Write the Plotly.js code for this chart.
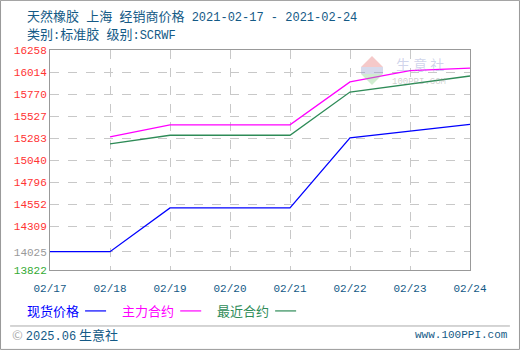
<!DOCTYPE html>
<html><head><meta charset="utf-8">
<script src="https://cdn.plot.ly/plotly-3.0.1.min.js"></script>
<style>html,body{margin:0;padding:0;background:#fff}#c{width:520px;height:350px}</style>
</head><body><div id="c"></div>
<script>
const dates = ["02/17","02/18","02/19","02/20","02/21","02/22","02/23","02/24"];
const spot = [14025, 14025, 14510, 14510, 14510, 15285, 15358, 15435];
const mainContract = [null, 15296, 15430, 15430, 15430, 15905, 16030, 16058];
const nearContract = [null, 15218, 15314, 15314, 15314, 15793, 15880, 15970];
const leftTicks = [16258,16014,15770,15527,15283,15040,14796,14552,14309,14025,13822];
const rightTicks = [15.92,14.18,12.45,10.71,8.97,7.24,5.50,3.76,2.03,0.00,-1.45];
const seriesNames = ["现货价格","主力合约","最近合约"];
const seriesColors = ["#0000ff","#ff00ff","#2e8b57"];

const FONT = "'Liberation Mono','Noto Sans CJK SC',monospace";
const CJK = "'Noto Sans CJK SC','Liberation Mono',sans-serif";
function colorFor(i, n){ return i===n-1 ? "#33aa33" : (i===n-2 ? "#999999" : "#ff3333"); }
const leftText = leftTicks.map((v,i)=>`<span style="color:${colorFor(i,leftTicks.length)}">${v}</span>`);
const rightText = rightTicks.map((v,i)=>`<span style="color:${colorFor(i,rightTicks.length)}">${v.toFixed(2)}%</span>`);

const traces = [spot, mainContract, nearContract].map((ys,i)=>({
  x: dates, y: ys, type:'scatter', mode:'lines', name: seriesNames[i],
  line:{color: seriesColors[i], width:1.3}, connectgaps:false, hoverinfo:'skip'
}));

const MONO = 'style="font-family:Liberation Mono;font-size:12px"';
const SP = '<span style="font-family:Liberation Mono;font-size:12px">\u00a0</span>';
const annotations = [
  {xref:'paper',yref:'paper',x:-0.0595,y:1.159,xanchor:'left',yanchor:'middle',showarrow:false,
   text:`天然橡胶${SP}上海${SP}经销商价格<span ${MONO}>\u00a02021-02-17 - 2021-02-24</span>`,font:{family:CJK,size:13,color:'#145a86'}},
  {xref:'paper',yref:'paper',x:-0.0595,y:1.075,xanchor:'left',yanchor:'middle',showarrow:false,
   text:`类别<span ${MONO}>:</span>标准胶${SP}级别<span ${MONO}>:SCRWF</span>`,font:{family:CJK,size:13,color:'#145a86'}},
  {xref:'paper',yref:'paper',x:0.882,y:0.935,xanchor:'center',yanchor:'middle',showarrow:false,
   text:'生 意 社',font:{family:CJK,size:14,color:'rgba(150,160,210,0.45)'}},
  {xref:'paper',yref:'paper',x:0.879,y:0.855,xanchor:'center',yanchor:'middle',showarrow:false,
   text:'100PPI.COM',font:{family:FONT,size:9,color:'rgba(150,150,150,0.45)'}},
  {xref:'paper',yref:'paper',x:-0.095,y:-0.295,xanchor:'left',yanchor:'middle',showarrow:false,
   text:`<span style="color:#aaaaaa">©</span> <span ${MONO}>2025.06</span> 生意社`,font:{family:CJK,size:13,color:'#145a86'}},
  {xref:'paper',yref:'paper',x:1.095,y:-0.295,xanchor:'right',yanchor:'middle',showarrow:false,
   text:'www.100PPI.com',font:{family:FONT,size:11,color:'#145a86'}}
];
const legX = [-0.0595, 0.167, 0.393];
const shapes = [
  {type:'line',xref:'paper',yref:'paper',x0:-0.095,x1:1.095,y0:-0.2545,y1:-0.2545,line:{color:'#aaaaaa',width:1}},
  {type:'rect',xref:'paper',yref:'paper',x0:-0.1178,x1:1.1178,y0:-0.361,y1:1.2255,line:{color:'#999999',width:1}},
  {type:'path',xref:'paper',yref:'paper',path:'M0.7405,0.9227 L0.7667,0.9727 L0.7929,0.9227 Z',
   fillcolor:'rgba(230,120,120,0.4)',line:{width:0}},
  {type:'rect',xref:'paper',yref:'paper',x0:0.7405,x1:0.7929,y0:0.8909,y1:0.9227,
   fillcolor:'rgba(140,150,200,0.35)',line:{width:0}},
  {type:'path',xref:'paper',yref:'paper',path:'M0.7405,0.8909 L0.7667,0.8409 L0.7929,0.8909 Z',
   fillcolor:'rgba(120,200,120,0.35)',line:{width:0}}
];
seriesNames.forEach((n,i)=>{
  annotations.push({xref:'paper',yref:'paper',x:legX[i],y:-0.186,xanchor:'left',yanchor:'middle',showarrow:false,
    text:n,font:{family:CJK,size:13,color:seriesColors[i]}});
  shapes.push({type:'line',xref:'paper',yref:'paper',x0:legX[i]+0.143,x1:legX[i]+0.193,y0:-0.186,y1:-0.186,
    line:{color:seriesColors[i],width:1.2}});
});

const layout = {
  width:520,height:350,margin:{l:50,r:50,t:50,b:80},
  paper_bgcolor:'#fff',plot_bgcolor:'#fff',showlegend:false,
  font:{family:FONT,size:11},
  xaxis:{type:'category',range:[0,7],tickvals:dates,ticktext:dates,showgrid:true,gridcolor:'#c8c8c8',griddash:'dash',gridwidth:1,
    showline:true,linecolor:'#999999',mirror:true,ticks:'',zeroline:false,ticklabelstandoff:8,
    tickfont:{family:FONT,size:11,color:'#145a86'},fixedrange:true},
  yaxis:{range:[13822,16258],tickvals:leftTicks,ticktext:leftText,showgrid:true,gridcolor:'#c8c8c8',griddash:'dash',
    showline:true,linecolor:'#999999',mirror:true,ticks:'',zeroline:false,tickfont:{family:FONT,size:11}},
  yaxis2:{overlaying:'y',side:'right',range:[-1.45,15.92],tickvals:rightTicks,ticktext:rightText,showgrid:false,
    zeroline:true,zerolinecolor:'#999999',zerolinewidth:1,ticks:'',showline:false,tickfont:{family:FONT,size:11}},
  annotations:annotations, shapes:shapes
};
Plotly.newPlot('c', traces, layout, {staticPlot:true});
</script></body></html>
